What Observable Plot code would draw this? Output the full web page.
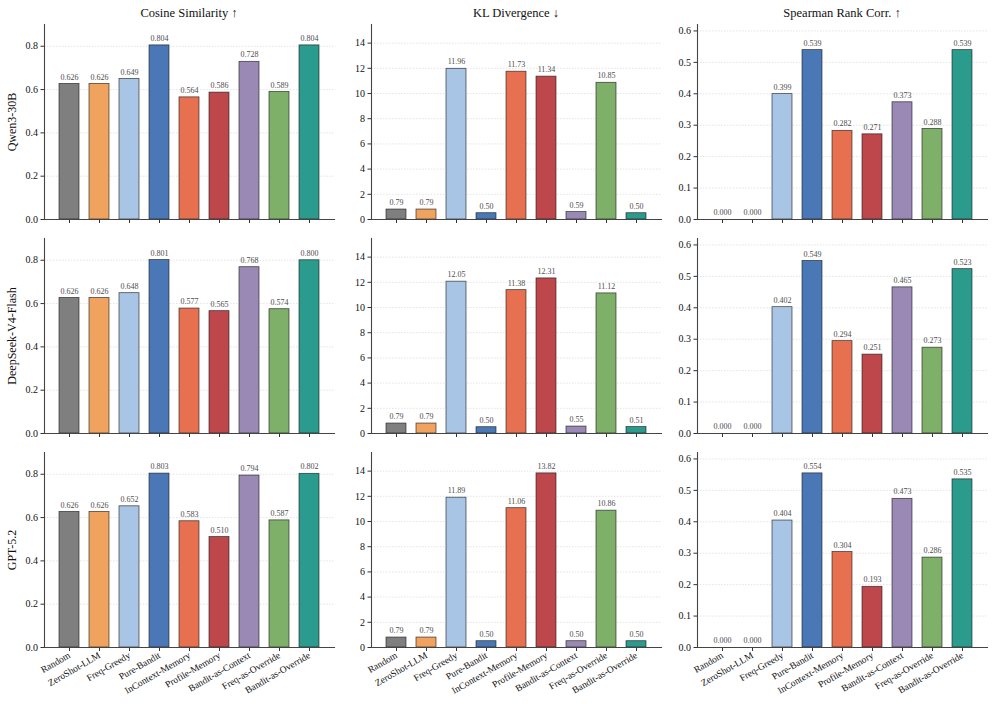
<!DOCTYPE html>
<html>
<head>
<meta charset="utf-8">
<script src="https://cdn.jsdelivr.net/npm/d3@7"></script>
<script src="https://cdn.jsdelivr.net/npm/@observablehq/plot@0.6"></script>
<style>
  html, body { margin: 0; padding: 0; background: #fff; }
  #fig { position: relative; width: 996px; height: 704px; font-family: "Liberation Serif", "DejaVu Serif", serif; }
  .panel { position: absolute; }
  .ctitle { position: absolute; top: 6px; width: 290px; text-align: center; font-size: 12.5px; line-height: 14px; color: #111; font-family: "Liberation Serif", serif; }
</style>
</head>
<body>
<div id="fig"></div>
<script>
const methods = ["Random","ZeroShot-LLM","Freq-Greedy","Pure-Bandit","InContext-Memory","Profile-Memory","Bandit-as-Context","Freq-as-Override","Bandit-as-Override"];
const methodColors = ["#7f7f7f","#f0a35e","#a9c5e5","#4a77b5","#e6704f","#bd474b","#9a88b5","#7fb06a","#2a9b8c"];
const models = ["Qwen3-30B","DeepSeek-V4-Flash","GPT-5.2"];
const metricTitles = ["Cosine Similarity \u2191","KL Divergence \u2193","Spearman Rank Corr. \u2191"];

const qwenCosine   = [0.626,0.626,0.649,0.804,0.564,0.586,0.728,0.589,0.804];
const qwenKL       = [0.79,0.79,11.96,0.50,11.73,11.34,0.59,10.85,0.50];
const qwenSpearman = [0.000,0.000,0.399,0.539,0.282,0.271,0.373,0.288,0.539];

const dsCosine     = [0.626,0.626,0.648,0.801,0.577,0.565,0.768,0.574,0.800];
const dsKL         = [0.79,0.79,12.05,0.50,11.38,12.31,0.55,11.12,0.51];
const dsSpearman   = [0.000,0.000,0.402,0.549,0.294,0.251,0.465,0.273,0.523];

const gptCosine    = [0.626,0.626,0.652,0.803,0.583,0.510,0.794,0.587,0.802];
const gptKL        = [0.79,0.79,11.89,0.50,11.06,13.82,0.50,10.86,0.50];
const gptSpearman  = [0.000,0.000,0.404,0.554,0.304,0.193,0.473,0.286,0.535];

const cosineTicks   = [0,0.2,0.4,0.6,0.8];
const klTicks       = [0,2,4,6,8,10,12,14];
const spearmanTicks = [0,0.1,0.2,0.3,0.4,0.5,0.6];

const grid = [
  [qwenCosine, qwenKL, qwenSpearman],
  [dsCosine, dsKL, dsSpearman],
  [gptCosine, gptKL, gptSpearman]
];
const metricTicks = [cosineTicks, klTicks, spearmanTicks];
const valueFormats = [d3.format(".3f"), d3.format(".2f"), d3.format(".3f")];
const tickFormats = [d3.format(".1f"), d3.format("d"), d3.format(".1f")];
const yMax = [0,1,2].map(c => d3.max(grid.flatMap(row => row[c])) * 1.12);

const fig = document.getElementById("fig");
const colLeft = [0, 327, 653];
const ML = 44, MT = 10, PH = 195;

metricTitles.forEach((t, c) => {
  const d = document.createElement("div");
  d.className = "ctitle";
  d.style.left = (colLeft[c] + ML) + "px";
  d.textContent = t;
  fig.appendChild(d);
});

for (let r = 0; r < 3; r++) {
  for (let c = 0; c < 3; c++) {
    const vals = grid[r][c];
    const data = methods.map((m, i) => ({method: m, value: vals[i]}));
    const last = r === 2;
    const MB = last ? 62 : 12;
    const ticks = metricTicks[c];
    const plot = Plot.plot({
      width: 336,
      height: MT + PH + MB,
      marginLeft: ML,
      marginRight: 2,
      marginTop: MT,
      marginBottom: MB,
      style: {fontFamily: "'Liberation Serif', serif", fontSize: "10px", background: "transparent", color: "#111"},
      x: {domain: methods, paddingInner: 0.33, paddingOuter: 0.42, label: null},
      y: {domain: [0, yMax[c]], label: null},
      color: {domain: methods, range: methodColors},
      marks: [
        Plot.gridY(ticks.filter(t => t > 0), {stroke: "#999", strokeOpacity: 0.45, strokeDasharray: "1.5,1.5", strokeWidth: 0.6}),
        Plot.barY(data, {x: "method", y: "value", fill: "method", stroke: "#1a1a1a", strokeOpacity: 0.75, strokeWidth: 0.8}),
        Plot.text(data, {x: "method", y: "value", text: d => valueFormats[c](d.value), dy: -7, fontSize: 8, fill: "#4d4d4d", style: "letter-spacing:0.6px"}),
        Plot.axisY({ticks: ticks, tickFormat: tickFormats[c], tickSize: 3.5, tickPadding: 3, fontSize: 10, stroke: "#333"}),
        c === 0 ? Plot.axisY({ticks: [], tickSize: 0, label: models[r], labelAnchor: "center", labelArrow: "none", labelOffset: 37, fontSize: 12}) : null,
        last
          ? Plot.axisX({tickSize: 4, tickRotate: -30, tickPadding: 3, fontSize: 9.5, textAnchor: "end", stroke: "#333"})
          : Plot.axisX({tickSize: 4, tickFormat: () => "", stroke: "#333"}),
        Plot.frame({anchor: "left", stroke: "#444", strokeWidth: 1.1}),
        Plot.frame({anchor: "bottom", stroke: "#444", strokeWidth: 1.1})
      ]
    });
    plot.classList.add("panel");
    plot.style.left = colLeft[c] + "px";
    plot.style.top = (24 + 214 * r - MT) + "px";
    plot.style.overflow = "visible";
    fig.appendChild(plot);
  }
}
</script>
</body>
</html>
